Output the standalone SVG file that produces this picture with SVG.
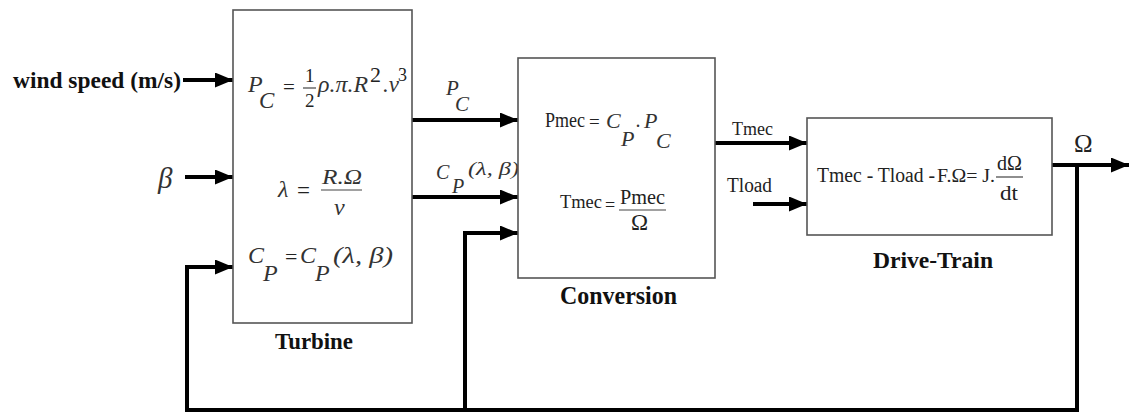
<svg xmlns="http://www.w3.org/2000/svg" width="1129" height="416" viewBox="0 0 1129 416">
<defs>
<marker id="ah" markerUnits="userSpaceOnUse" markerWidth="20" markerHeight="16" refX="18" refY="7.5" orient="auto">
<path d="M0,0 L18,7.5 L0,15 z" fill="#000"/>
</marker>
<style>
.box{fill:#fff;stroke:#555;stroke-width:1.6}
.w{stroke:#000;stroke-width:4;fill:none}
.a{stroke:#000;stroke-width:4;fill:none;marker-end:url(#ah)}
.m{font-family:"Liberation Serif",serif;font-style:italic;fill:#333}
.u{font-family:"Liberation Serif",serif;fill:#222}
.b{font-family:"Liberation Serif",serif;font-weight:bold;fill:#111}
.fl{stroke:#444;stroke-width:1.2}
</style>
</defs>
<rect width="1129" height="416" fill="#fff"/>

<g id="connectors">
<line class="a" x1="183" y1="80" x2="233" y2="80"/>
<line class="a" x1="185" y1="177" x2="233" y2="177"/>
<polyline class="a" points="187,410 187,267 233,267"/>
<line class="a" x1="412" y1="120" x2="518" y2="120"/>
<line class="a" x1="412" y1="197" x2="518" y2="197"/>
<polyline class="a" points="465,410 465,233 518,233"/>
<line class="a" x1="715" y1="143" x2="807" y2="143"/>
<line class="a" x1="753" y1="204" x2="807" y2="204"/>
<line class="a" x1="1052" y1="165" x2="1129" y2="165"/>
<polyline class="w" points="1077,165 1077,410 185,410"/>
</g>

<g id="inputs">
<text class="b" x="13" y="88" font-size="23" textLength="168" lengthAdjust="spacingAndGlyphs">wind speed (m/s)</text>
<text class="m" x="158" y="188" font-size="29">β</text>
</g>

<g id="turbine">
<rect class="box" x="233" y="10" width="179" height="313"/>
<text class="m" x="248" y="92" font-size="24">P</text>
<text class="m" x="259" y="108" font-size="23">C</text>
<text class="u" x="283" y="94" font-size="21">=</text>
<text class="u" x="305" y="82" font-size="19">1</text>
<line class="fl" x1="303" y1="88" x2="316" y2="88"/>
<text class="u" x="305" y="107" font-size="19">2</text>
<text class="m" x="318" y="92" font-size="24" textLength="50" lengthAdjust="spacingAndGlyphs">ρ.π.R</text>
<text class="u" x="370" y="82" font-size="22">2</text>
<text class="m" x="383" y="92" font-size="23">.v</text>
<text class="u" x="398" y="81" font-size="18">3</text>

<text class="m" x="278" y="197" font-size="24">λ</text>
<text class="u" x="297" y="198" font-size="23">=</text>
<text class="m" x="322" y="184" font-size="22" textLength="40" lengthAdjust="spacingAndGlyphs">R.Ω</text>
<line class="fl" x1="321" y1="190" x2="362" y2="190"/>
<text class="m" x="334" y="215" font-size="24">v</text>

<text class="m" x="248" y="263" font-size="24">C</text>
<text class="m" x="263" y="281" font-size="24">P</text>
<text class="u" x="285" y="264" font-size="22">=</text>
<text class="m" x="300" y="263" font-size="24">C</text>
<text class="m" x="315" y="281" font-size="24">P</text>
<text class="m" x="333" y="263" font-size="23" textLength="60" lengthAdjust="spacingAndGlyphs">(λ, β)</text>
<text class="b" x="275" y="349" font-size="24" textLength="78" lengthAdjust="spacingAndGlyphs">Turbine</text>
</g>

<g id="labels-mid">
<text class="m" x="446" y="95" font-size="21">P</text>
<text class="m" x="455" y="111" font-size="21">C</text>
<text class="m" x="436" y="179" font-size="20">C</text>
<text class="m" x="452" y="193" font-size="20">P</text>
<text class="m" x="468" y="175" font-size="18" textLength="51" lengthAdjust="spacingAndGlyphs">(λ, β)</text>
</g>

<g id="conversion">
<rect class="box" x="518" y="58" width="197" height="220"/>
<text class="u" x="545" y="127" font-size="20" textLength="40" lengthAdjust="spacingAndGlyphs">Pmec</text>
<text class="u" x="589" y="128" font-size="19">=</text>
<text class="m" x="606" y="128" font-size="22">C</text>
<text class="m" x="621" y="146" font-size="22">P</text>
<text class="m" x="636" y="127" font-size="20">.</text>
<text class="m" x="644" y="128" font-size="22">P</text>
<text class="m" x="656" y="148" font-size="22">C</text>
<text class="u" x="560" y="208" font-size="19" textLength="42" lengthAdjust="spacingAndGlyphs">Tmec</text>
<text class="u" x="605" y="211" font-size="18">=</text>
<text class="u" x="620" y="204" font-size="20" textLength="45" lengthAdjust="spacingAndGlyphs">Pmec</text>
<line class="fl" x1="619" y1="210" x2="666" y2="210"/>
<text class="u" x="631" y="230" font-size="23">Ω</text>
<text class="b" x="560" y="304" font-size="25" textLength="117" lengthAdjust="spacingAndGlyphs">Conversion</text>
</g>

<g id="drive-train">
<rect class="box" x="807" y="118" width="245" height="117"/>
<text class="u" x="817" y="182" font-size="20.5" textLength="118" lengthAdjust="spacingAndGlyphs">Tmec - Tload -</text>
<text class="u" x="937" y="182" font-size="18" textLength="58" lengthAdjust="spacingAndGlyphs">F.Ω= J.</text>
<text class="u" x="997" y="170" font-size="20" textLength="25" lengthAdjust="spacingAndGlyphs">dΩ</text>
<line class="fl" x1="996" y1="177" x2="1023" y2="177"/>
<text class="u" x="1000" y="200" font-size="20" textLength="18" lengthAdjust="spacingAndGlyphs">dt</text>
<text class="b" x="873" y="268" font-size="24" textLength="120" lengthAdjust="spacingAndGlyphs">Drive-Train</text>
</g>

<g id="outputs">
<text class="u" x="732" y="135" font-size="19" textLength="41" lengthAdjust="spacingAndGlyphs">Tmec</text>
<text class="u" x="727" y="192" font-size="20" textLength="45" lengthAdjust="spacingAndGlyphs">Tload</text>
<text class="u" x="1074" y="152" font-size="25">Ω</text>
</g>
</svg>
